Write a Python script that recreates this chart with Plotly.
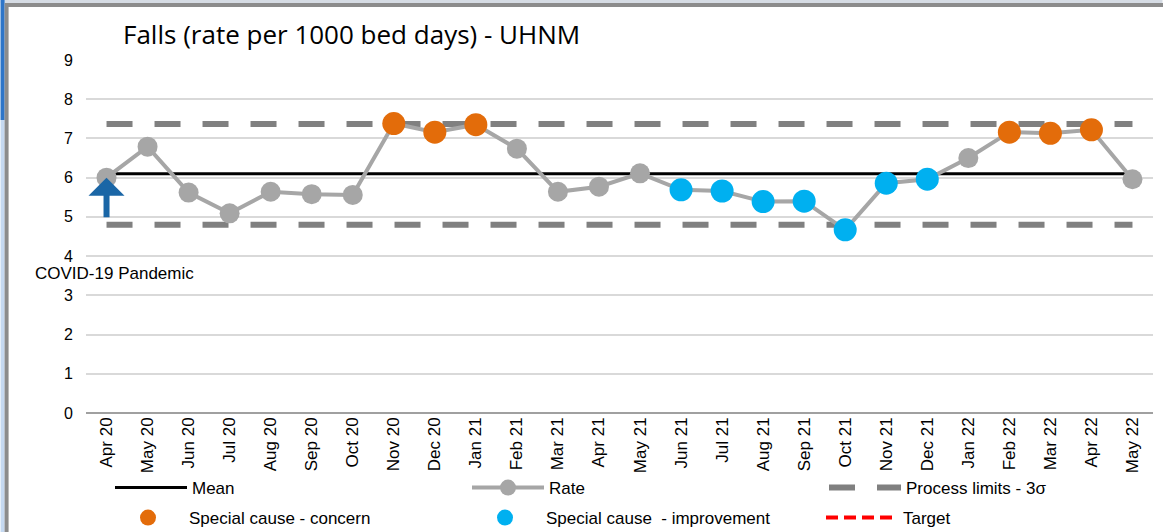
"""
Falls SPC chart (rate per 1000 bed days) - UHNM, Apr 2020 to May 2022.
"""

import plotly.graph_objects as go

# -----------------------------------------------------------------------------
# Data
# -----------------------------------------------------------------------------
months = [
    "Apr 20", "May 20", "Jun 20", "Jul 20", "Aug 20", "Sep 20", "Oct 20",
    "Nov 20", "Dec 20", "Jan 21", "Feb 21", "Mar 21", "Apr 21", "May 21",
    "Jun 21", "Jul 21", "Aug 21", "Sep 21", "Oct 21", "Nov 21", "Dec 21",
    "Jan 22", "Feb 22", "Mar 22", "Apr 22", "May 22",
]
rate = [
    6.00, 6.79, 5.62, 5.09, 5.64, 5.58, 5.56,
    7.38, 7.16, 7.35, 6.74, 5.64, 5.77, 6.11,
    5.69, 5.66, 5.39, 5.40, 4.67, 5.86, 5.96,
    6.50, 7.16, 7.13, 7.22, 5.96,
]
mean_rate = 6.10
upper_limit = 7.37
lower_limit = 4.80

concern_months = ["Nov 20", "Dec 20", "Jan 21", "Feb 22", "Mar 22", "Apr 22"]
improvement_months = ["Jun 21", "Jul 21", "Aug 21", "Sep 21", "Oct 21", "Nov 21", "Dec 21"]

y_ticks = [0, 1, 2, 3, 4, 5, 6, 7, 8, 9]

# -----------------------------------------------------------------------------
# Styling / geometry
# -----------------------------------------------------------------------------
FONT = "Liberation Sans, Arial, sans-serif"
GREY_RATE = "#A6A6A6"
GREY_LIMIT = "#808080"
ORANGE = "#E36C0A"
CYAN = "#00B0F0"

W, H = 1163, 532
M_L, M_R, M_T, M_B = 85.5, 9.5, 60, 119
PLOT_W = W - M_L - M_R
PLOT_H = H - M_T - M_B


def px_x(px):
    """Pixel x (from left) -> paper x."""
    return (px - M_L) / PLOT_W


def px_y(py):
    """Pixel y (from top) -> paper y."""
    return (H - M_B - py) / PLOT_H


concern = [v if m in concern_months else None for m, v in zip(months, rate)]
improvement = [v if m in improvement_months else None for m, v in zip(months, rate)]

fig = go.Figure()

fig.add_trace(go.Scatter(
    x=months, y=[upper_limit] * len(months), mode="lines",
    line=dict(color=GREY_LIMIT, width=6, dash="26px,22px"),
    name="Process limits - 3σ", legend="legend", legendrank=3, hoverinfo="skip",
))
fig.add_trace(go.Scatter(
    x=months, y=[lower_limit] * len(months), mode="lines",
    line=dict(color=GREY_LIMIT, width=6, dash="26px,22px"),
    name="Process limits - 3σ", showlegend=False, hoverinfo="skip",
))
fig.add_trace(go.Scatter(
    x=months, y=[mean_rate] * len(months), mode="lines",
    line=dict(color="black", width=3),
    name="Mean", legend="legend", legendrank=1,
))
fig.add_trace(go.Scatter(
    x=months, y=rate, mode="lines+markers",
    line=dict(color=GREY_RATE, width=4),
    marker=dict(color=GREY_RATE, size=20),
    name="Rate", legend="legend", legendrank=2,
))
fig.add_trace(go.Scatter(
    x=months, y=concern, mode="markers",
    marker=dict(color=ORANGE, size=23),
    name="Special cause - concern", legend="legend2", legendrank=4,
))
fig.add_trace(go.Scatter(
    x=months, y=improvement, mode="markers",
    marker=dict(color=CYAN, size=23),
    name="Special cause  - improvement", legend="legend2", legendrank=5,
))
fig.add_trace(go.Scatter(
    x=months, y=[None] * len(months), mode="lines",
    line=dict(color="red", width=4, dash="12px,6px"),
    name="Target", legend="legend2", legendrank=6,
))

# COVID-19 marker arrow and label
fig.add_annotation(
    x="Apr 20", y=6.0, ax="Apr 20", ay=4.95, xref="x", yref="y", axref="x", ayref="y",
    showarrow=True, arrowhead=1, arrowsize=1.0, arrowwidth=6, arrowcolor="#1A66A6",
    text="",
)
fig.add_annotation(
    x=px_x(32), y=3.55, xref="paper", yref="y", xanchor="left", yanchor="middle",
    text="COVID-19 Pandemic", showarrow=False,
    font=dict(family=FONT, size=17, color="black"),
)

# Slide background strips and frame
fig.add_shape(type="rect", xref="paper", yref="paper", layer="below",
              x0=px_x(0), x1=px_x(W), y0=px_y(3), y1=px_y(0),
              fillcolor="#D6DCE4", line_width=0)
fig.add_shape(type="rect", xref="paper", yref="paper", layer="below",
              x0=px_x(0), x1=px_x(4), y0=px_y(H), y1=px_y(0),
              fillcolor="#C5D9F1", line_width=0)
fig.add_shape(type="rect", xref="paper", yref="paper", layer="below",
              x0=px_x(0), x1=px_x(4), y0=px_y(120), y1=px_y(0),
              fillcolor="#2E75C8", line_width=0)
fig.add_shape(type="rect", xref="paper", yref="paper", layer="below",
              x0=px_x(6), x1=px_x(W + 10), y0=px_y(H + 10), y1=px_y(5),
              line=dict(color="#8C8C8C", width=4))

legend_style = dict(
    orientation="h", xref="container", yref="container",
    xanchor="left", yanchor="middle",
    entrywidth=270, itemwidth=72, traceorder="normal",
    font=dict(family=FONT, size=17, color="black"),
    bgcolor="rgba(0,0,0,0)",
)

fig.update_layout(
    width=W, height=H,
    margin=dict(l=M_L, r=M_R, t=M_T, b=M_B, autoexpand=False),
    paper_bgcolor="white", plot_bgcolor="white",
    title=dict(
        text="Falls (rate per 1000 bed days) - UHNM",
        x=123 / W, xref="container", xanchor="left",
        y=1 - 35 / H, yref="container", yanchor="middle",
        pad=dict(l=0, r=0, t=0, b=0),
        font=dict(family="Open Sans, sans-serif", size=26, color="black"),
    ),
    font=dict(family=FONT, size=15, color="black"),
    showlegend=True,
    legend=dict(legend_style, x=110 / W, y=1 - 488 / H),
    legend2=dict(legend_style, x=107 / W, y=1 - 518 / H),
    xaxis=dict(
        type="category", range=[-0.5, len(months) - 0.5],
        tickangle=-90, tickfont=dict(family=FONT, size=17),
        showgrid=False, showline=False, ticks="",
        zeroline=False, fixedrange=True,
    ),
    yaxis=dict(
        range=[0, 9], tickvals=y_ticks, showgrid=True, gridcolor="#D9D9D9",
        gridwidth=1.5, zeroline=True, zerolinecolor="#A0A0A0", zerolinewidth=1.5,
        tickfont=dict(family=FONT, size=16), ticks="", ticklabelstandoff=12,
        fixedrange=True,
    ),
)

# page body has an 8px default margin; drop it so the figure fills the window
fig.write_html(
    "out.html",
    config={"displayModeBar": False},
    post_script="document.body.style.margin = '0';",
)
